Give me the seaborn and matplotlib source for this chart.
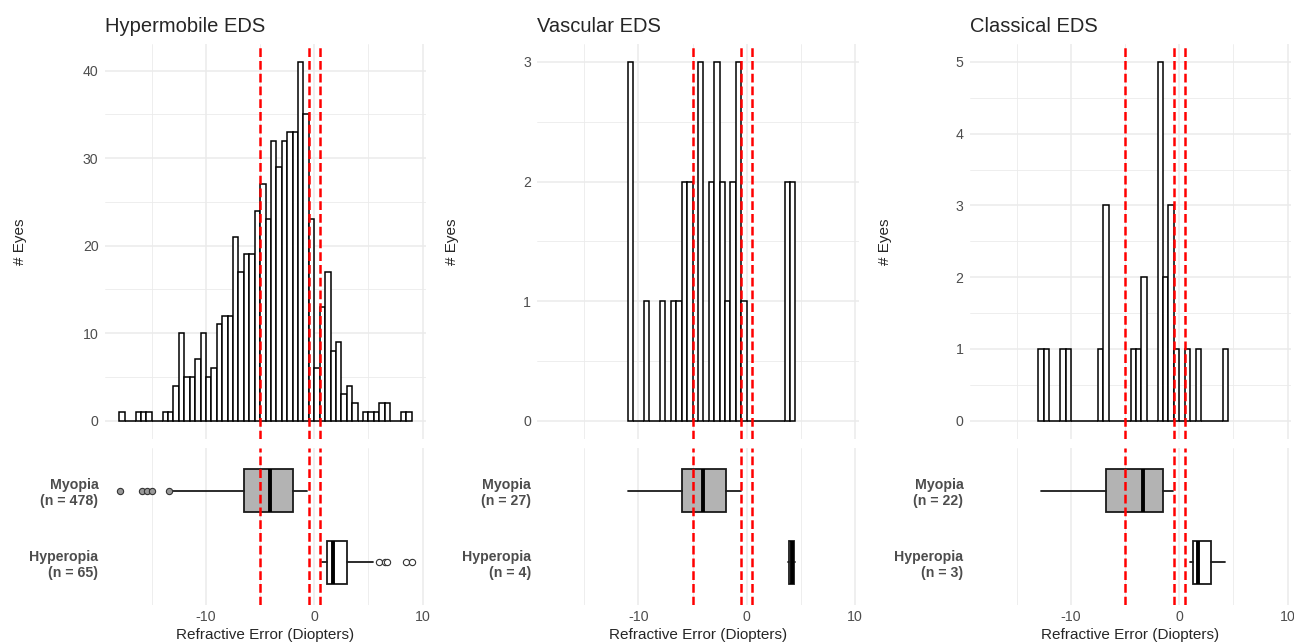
import numpy as np
import pandas as pd
import matplotlib
matplotlib.use("Agg")
import matplotlib.pyplot as plt
import seaborn as sns
from matplotlib.ticker import MultipleLocator

# Histogram counts (bin width 0.5 D)
bin_width = 0.5

hyper_start = -18.0
hyper_counts = [1, 0, 0, 1, 1, 1, 0, 0, 1, 1,
                4, 10, 5, 5, 7, 10, 5, 6, 11, 12,
                12, 21, 17, 19, 19, 24, 27, 23, 32, 29,
                32, 33, 33, 41, 35, 23, 6, 13, 17, 8,
                9, 3, 4, 2, 0, 1, 1, 1, 2, 2,
                0, 0, 1, 1]

vasc_start = -11.0
vasc_counts = [3, 0, 0, 1, 0, 0, 1, 0, 1, 1,
               2, 2, 0, 3, 0, 2, 3, 2, 1, 2,
               3, 1, 0, 0, 0, 0, 0, 0, 0, 2, 2]

class_start = -13.0
class_counts = [1, 1, 0, 0, 1, 1, 0, 0, 0, 0,
                0, 1, 3, 0, 0, 0, 0, 1, 1, 2,
                0, 0, 5, 2, 3, 1, 0, 1, 0, 1,
                0, 0, 0, 0, 1]

# Box summaries: [Myopia, Hyperopia]
groups = ["Myopia", "Hyperopia"]
hyper_n = [478, 65]
hyper_q1 = [-6.5, 1.2]
hyper_med = [-4.1, 1.7]
hyper_q3 = [-2.0, 3.0]
hyper_lo = [-13.0, 0.75]
hyper_hi = [-0.65, 5.45]
hyper_fliers = [[-17.9, -15.9, -15.45, -14.95, -13.4], [6.0, 6.5, 6.7, 8.5, 9.0]]

vasc_n = [27, 4]
vasc_q1 = [-5.95, 3.95]
vasc_med = [-4.0, 4.15]
vasc_q3 = [-1.95, 4.35]
vasc_lo = [-11.0, 3.8]
vasc_hi = [-0.55, 4.5]
vasc_fliers = [[], []]

class_n = [22, 3]
class_q1 = [-6.8, 1.3]
class_med = [-3.35, 1.7]
class_q3 = [-1.55, 2.95]
class_lo = [-12.75, 1.0]
class_hi = [-0.6, 4.2]
class_fliers = [[], []]

titles = ["Hypermobile EDS", "Vascular EDS", "Classical EDS"]
cutoffs = [-5, -0.5, 0.5]

sns.set_style("white")
plt.rcParams['font.family'] = ['Liberation Sans', 'DejaVu Sans']
plt.rcParams['axes.unicode_minus'] = False

W, H = 1294, 642
fig = plt.figure(figsize=(W / 100, H / 100), dpi=100)

def px_axes(x0, y0, x1, y1):
    return fig.add_axes([x0 / W, 1 - y1 / H, (x1 - x0) / W, (y1 - y0) / H])

grid_col = "#EBEBEB"
txt_col = "#4D4D4D"
xlim = (-19.35, 10.35)
tick_size = 10.2

panels = [
    (hyper_start, hyper_counts, 10, hyper_n, hyper_q1, hyper_med, hyper_q3, hyper_lo, hyper_hi, hyper_fliers),
    (vasc_start, vasc_counts, 1, vasc_n, vasc_q1, vasc_med, vasc_q3, vasc_lo, vasc_hi, vasc_fliers),
    (class_start, class_counts, 1, class_n, class_q1, class_med, class_q3, class_lo, class_hi, class_fliers),
]
lefts = [104.7, 537.1, 969.7]
width = 321.7

for i, (start, counts, ystep, n, q1, med, q3, lo, hi, fl) in enumerate(panels):
    left = lefts[i]
    ax = px_axes(left, 44, left + width, 438.6)
    bx = px_axes(left, 447.7, left + width, 605.2)

    edges = [start + bin_width * k for k in range(len(counts) + 1)]
    df = pd.DataFrame({"x": [e + bin_width / 2 for e in edges[:-1]], "w": counts})
    sns.histplot(data=df, x="x", weights="w", bins=edges, ax=ax,
                 color="white", edgecolor="black", linewidth=1.1, alpha=1)

    ymax = max(counts)
    ax.set_xlim(*xlim)
    ax.set_ylim(-0.05 * ymax, 1.05 * ymax)
    ax.xaxis.set_major_locator(MultipleLocator(10))
    ax.xaxis.set_minor_locator(MultipleLocator(5))
    ax.yaxis.set_major_locator(MultipleLocator(ystep))
    ax.yaxis.set_minor_locator(MultipleLocator(ystep / 2))
    ax.grid(which="major", color=grid_col, lw=1.1)
    ax.grid(which="minor", color=grid_col, lw=0.6)
    ax.set_axisbelow(True)
    ax.tick_params(which="both", length=0, labelsize=tick_size, labelcolor=txt_col, pad=4.5)
    ax.set_xticklabels([])
    ax.set_xlabel("")
    ax.set_ylabel("# Eyes", fontsize=11)
    ax.yaxis.set_label_coords(-0.242, 0.5)
    ax.set_title(titles[i], loc="left", fontsize=14.5, pad=9)
    for c in cutoffs:
        ax.axvline(c, color="red", lw=1.8, ls=(0, (3.5, 1.6)), zorder=5)

    stats = []
    for k in range(2):
        stats.append(dict(q1=q1[k], med=med[k], q3=q3[k], whislo=lo[k],
                          whishi=hi[k], fliers=fl[k], label=f"{groups[k]}\n(n = {n[k]})"))
    res = bx.bxp(stats, positions=[1, 2], widths=0.6, orientation="horizontal",
                 patch_artist=True, showcaps=False,
                 boxprops=dict(edgecolor="#1a1a1a", lw=1.3),
                 whiskerprops=dict(color="#1a1a1a", lw=1.3),
                 medianprops=dict(color="black", lw=2.8),
                 flierprops=dict(marker="o", markersize=4.5, markeredgecolor="#333333",
                                 markeredgewidth=0.8))
    fills = ["#B3B3B3", "white"]
    flier_fills = ["#999999", "white"]
    for k in range(2):
        res["boxes"][k].set_facecolor(fills[k])
        res["fliers"][k].set_markerfacecolor(flier_fills[k])
    bx.set_xlim(*xlim)
    bx.set_ylim(2.6, 0.4)
    bx.xaxis.set_major_locator(MultipleLocator(10))
    bx.xaxis.set_minor_locator(MultipleLocator(5))
    bx.grid(which="major", axis="x", color=grid_col, lw=1.1)
    bx.grid(which="minor", axis="x", color=grid_col, lw=0.6)
    bx.grid(which="both", axis="y", visible=False)
    bx.set_axisbelow(True)
    bx.tick_params(axis="x", which="both", length=0, labelsize=tick_size, labelcolor=txt_col, pad=3.5)
    bx.tick_params(axis="y", length=0, labelsize=tick_size, labelcolor=txt_col, pad=4.5)
    for t in bx.get_yticklabels():
        t.set_fontweight("bold")
    bx.set_xlabel("Refractive Error (Diopters)", fontsize=11, labelpad=3)
    for c in cutoffs:
        bx.axvline(c, color="red", lw=1.8, ls=(0, (3.5, 1.6)), zorder=5)

    for a in (ax, bx):
        for s in a.spines.values():
            s.set_visible(False)

fig.savefig("out.png", dpi=100)
